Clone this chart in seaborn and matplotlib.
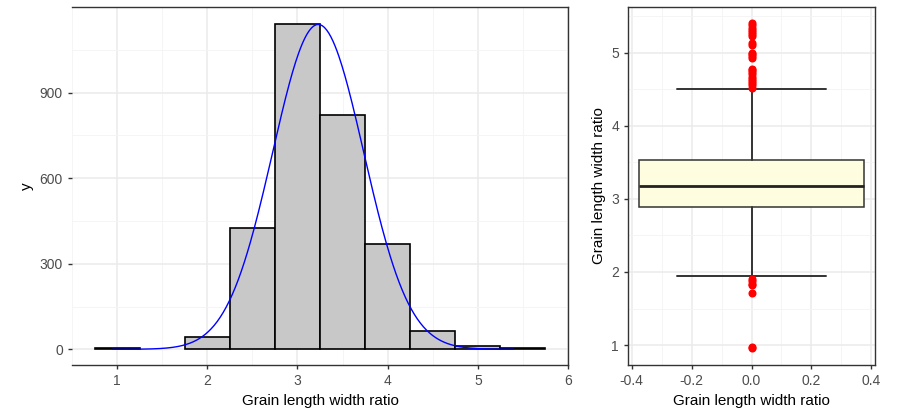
# Histogram with normal fit + boxplot of grain length/width ratio
import numpy as np
import matplotlib
matplotlib.use("Agg")
import matplotlib.pyplot as plt
import seaborn as sns

# histogram bins (centre, count)
bin_centers = [1.0, 1.5, 2.0, 2.5, 3.0, 3.5, 4.0, 4.5, 5.0, 5.5]
bin_counts = [3, 0, 43, 425, 1142, 822, 370, 63, 12, 3]
bin_width = 0.5

# normal curve fitted to the data
fit_mean = 3.23
fit_sd = 0.505
fit_min, fit_max = 0.95, 5.40

# boxplot summary
box_q1, box_med, box_q3 = 2.89, 3.18, 3.53
whisker_lo, whisker_hi = 1.94, 4.50
outliers_hi = [4.52, 4.55, 4.58, 4.61, 4.64, 4.67, 4.70, 4.73, 4.76, 4.78,
               4.92, 4.95, 4.98, 5.00, 5.10, 5.13,
               5.22, 5.25, 5.28, 5.31, 5.34, 5.37, 5.40]
outliers_lo = [1.90, 1.87, 1.84, 1.82, 1.71, 0.98, 0.96]

sns.set_theme(style="white")
plt.rcParams["font.family"] = ["Liberation Sans", "DejaVu Sans"]

fig = plt.figure(figsize=(8.97, 4.11), dpi=100)
ax1 = fig.add_axes([72 / 897, 46 / 411, 496 / 897, 358 / 411])
ax2 = fig.add_axes([628 / 897, 46 / 411, 247 / 897, 358 / 411])

# ---- left: histogram
sns.histplot(x=bin_centers, weights=bin_counts, binwidth=bin_width,
             binrange=(0.75, 5.75), color="#C8C8C8", edgecolor="black",
             linewidth=1.2, alpha=1, ax=ax1)
for p in ax1.patches:
    if p.get_height() == 0:
        p.set_visible(False)

n_total = sum(bin_counts)
xs = np.linspace(fit_min, fit_max, 400)
ys = n_total * bin_width * np.exp(-0.5 * ((xs - fit_mean) / fit_sd) ** 2) / (fit_sd * np.sqrt(2 * np.pi))
sns.lineplot(x=xs, y=ys, color="blue", linewidth=1, ax=ax1)

ax1.set_xlim(0.5, 6.0)
ax1.set_ylim(-55, 1200)
ax1.set_xticks([1, 2, 3, 4, 5, 6])
ax1.set_xticks([0.5, 1.5, 2.5, 3.5, 4.5, 5.5], minor=True)
ax1.set_yticks([0, 300, 600, 900])
ax1.set_yticks([150, 450, 750, 1050], minor=True)
ax1.set_xlabel("Grain length width ratio", fontsize=11, color="black")
ax1.set_ylabel("y", fontsize=11, color="black")
ax1.spines["left"].set_visible(False)

# ---- right: boxplot
stats = [dict(med=box_med, q1=box_q1, q3=box_q3, whislo=whisker_lo,
              whishi=whisker_hi, fliers=outliers_hi + outliers_lo)]
ax2.bxp(stats, positions=[0], widths=0.75, capwidths=0.5, patch_artist=True,
        manage_ticks=False,
        boxprops=dict(facecolor="#FFFDE0", edgecolor="#333333", linewidth=1.1),
        medianprops=dict(color="#222222", linewidth=2),
        whiskerprops=dict(color="#333333", linewidth=1.4),
        capprops=dict(color="#333333", linewidth=1.4),
        flierprops=dict(marker="o", markerfacecolor="red", markeredgecolor="red",
                        markersize=4.8))
ax2.set_xlim(-0.4125, 0.4125)
ax2.set_ylim(0.7275, 5.6225)
ax2.set_xticks([-0.4, -0.2, 0.0, 0.2, 0.4])
ax2.set_xticklabels(["-0.4", "-0.2", "0.0", "0.2", "0.4"])
ax2.set_xticks([-0.3, -0.1, 0.1, 0.3], minor=True)
ax2.set_yticks([1, 2, 3, 4, 5])
ax2.set_yticks([1.5, 2.5, 3.5, 4.5, 5.5], minor=True)
ax2.set_xlabel("Grain length width ratio", fontsize=11, color="black")
ax2.set_ylabel("Grain length width ratio", fontsize=11, color="black")

for ax in (ax1, ax2):
    ax.set_axisbelow(True)
    ax.grid(which="major", color="#EBEBEB", linewidth=1.1)
    ax.grid(which="minor", color="#F4F4F4", linewidth=0.6)
    for s in ax.spines.values():
        s.set_color("#333333")
        s.set_linewidth(1)
    ax.tick_params(which="major", length=3, width=1, color="#333333",
                   labelsize=10, labelcolor="#4D4D4D", bottom=True, left=True)
    ax.tick_params(which="minor", length=0)

fig.savefig("out.png", dpi=100)
